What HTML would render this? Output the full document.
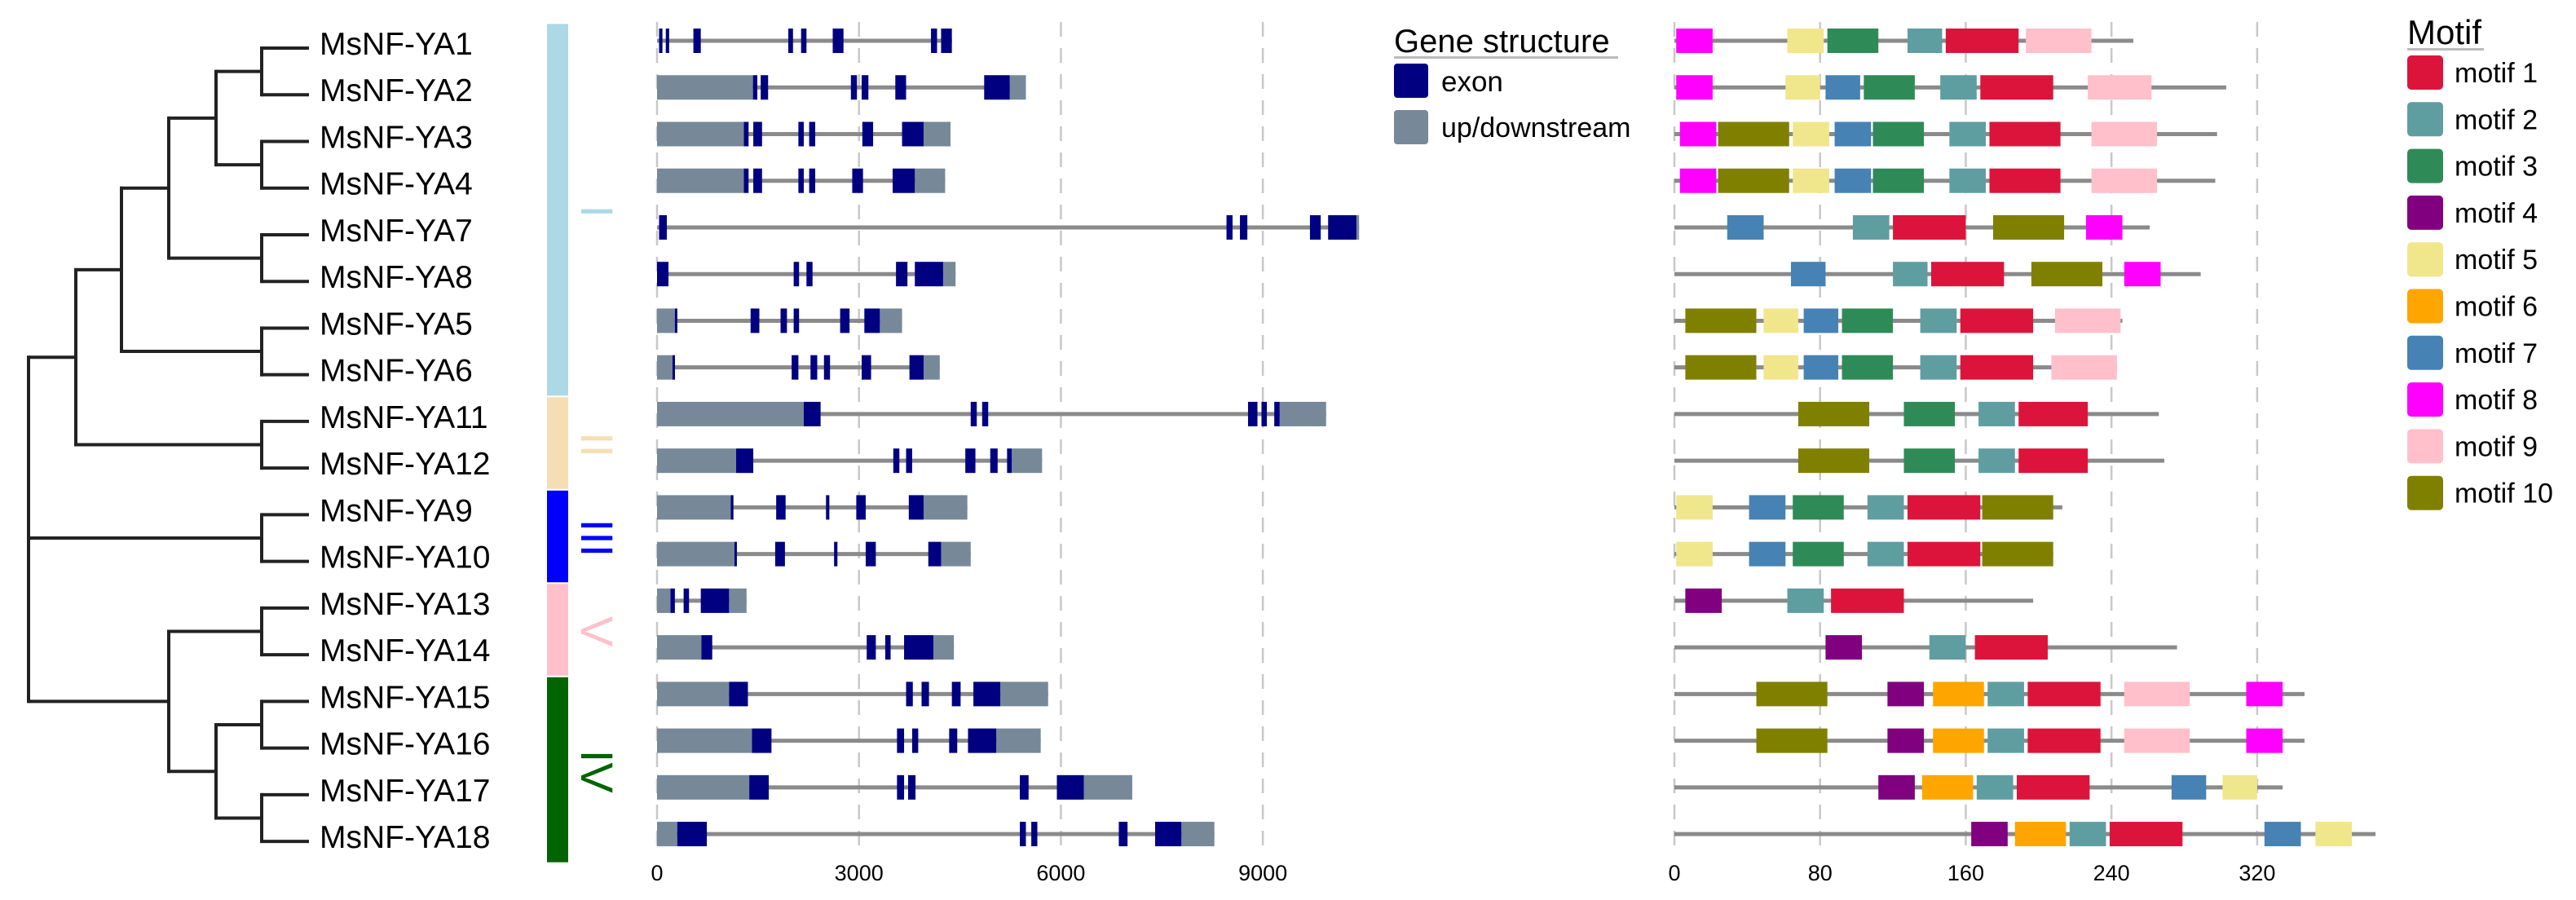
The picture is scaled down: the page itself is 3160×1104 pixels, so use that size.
<!DOCTYPE html>
<html><head><meta charset="utf-8">
<style>
html,body{margin:0;padding:0;background:#fff;}
svg{display:block;font-family:"Liberation Sans",sans-serif;}
</style></head>
<body>
<svg id="chart" width="3160" height="1104" viewBox="0 0 3160 1104" xmlns="http://www.w3.org/2000/svg">
<g id="grid"></g>
<g id="tree"></g>
<g id="labels"></g>
<g id="groups"></g>
<g id="genes"></g>
<g id="motifs"></g>
<g id="axes"></g>
<g>
  <text x="1710" y="64" font-size="40" fill="#000">Gene structure</text>
  <rect x="1710" y="69" width="275" height="3" fill="#bbb"/>
  <rect x="1710" y="78" width="42" height="42" rx="4" fill="#000080"/>
  <text x="1768" y="112" font-size="35">exon</text>
  <rect x="1710" y="135" width="42" height="42" rx="4" fill="#778899"/>
  <text x="1768" y="168" font-size="34">up/downstream</text>
</g>
<g id="motifLegend">
  <text x="2953" y="54" font-size="42">Motif</text>
  <rect x="2953" y="59" width="94" height="3" fill="#bbb"/>
</g>
</svg>
<script>
const NS="http://www.w3.org/2000/svg";
const geneNames=["MsNF-YA1","MsNF-YA2","MsNF-YA3","MsNF-YA4","MsNF-YA7","MsNF-YA8","MsNF-YA5","MsNF-YA6","MsNF-YA11","MsNF-YA12","MsNF-YA9","MsNF-YA10","MsNF-YA13","MsNF-YA14","MsNF-YA15","MsNF-YA16","MsNF-YA17","MsNF-YA18"];
// gene structure (bp): total length, UTR segments, exon segments
const geneLength=[4382,5480,4360,4280,10430,4435,3640,4200,9940,5720,4610,4660,1330,4410,5810,5700,7060,8280];
const geneUTR=[[],[[0,1425],[5240,5480]],[[0,1290],[3960,4360]],[[0,1290],[3830,4280]],[[10390,10430]],[[4250,4435]],[[0,265],[3310,3640]],[[0,230],[3960,4200]],[[0,2180],[9250,9940]],[[0,1175],[5270,5720]],[[0,1095],[3960,4610]],[[0,1150],[4220,4660]],[[0,200],[1070,1330]],[[0,660],[4105,4410]],[[0,1070],[5100,5810]],[[0,1410],[5040,5700]],[[0,1370],[6340,7060]],[[0,300],[7790,8280]]];
const geneExons=[
[[30,80],[130,180],[540,650],[1950,2020],[2140,2220],[2610,2770],[4070,4160],[4220,4380]],
[[1425,1490],[1540,1650],[2880,2970],[3040,3140],[3540,3700],[4860,5240]],
[[1290,1360],[1430,1560],[2100,2180],[2260,2350],[3050,3210],[3640,3960]],
[[1290,1360],[1430,1560],[2100,2180],[2260,2350],[2900,3060],[3500,3830]],
[[30,145],[8460,8550],[8660,8770],[9700,9860],[9970,10390]],
[[0,170],[2030,2110],[2220,2310],[3550,3720],[3830,4250]],
[[265,300],[1390,1520],[1835,1930],[2030,2110],[2720,2860],[3080,3310]],
[[230,265],[2000,2100],[2280,2380],[2480,2570],[3040,3180],[3750,3960]],
[[2180,2430],[4660,4750],[4830,4920],[8780,8920],[8980,9060],[9170,9250]],
[[1175,1430],[3510,3600],[3700,3790],[4580,4730],[4950,5060],[5200,5270]],
[[1095,1135],[1770,1910],[2510,2560],[2960,3100],[3740,3960]],
[[1150,1175],[1755,1900],[2630,2680],[3100,3250],[4030,4220]],
[[200,265],[395,475],[650,1070]],
[[660,820],[3115,3250],[3390,3470],[3670,4105]],
[[1070,1350],[3700,3800],[3930,4040],[4380,4510],[4700,5100]],
[[1410,1700],[3565,3670],[3790,3880],[4340,4460],[4620,5040]],
[[1370,1660],[3565,3670],[3730,3840],[5390,5520],[5940,6340]],
[[300,740],[5390,5480],[5560,5650],[6860,6990],[7400,7790]]];
const geneTicks=[0,3000,6000,9000];
// motifs (aa): protein length and [motif, start, end]
const protLength=[252,303,298,297,261,289,246,243,266,269,213,208,197,276,346,346,334,385];
const protMotifs=[
[[8,1,21],[5,62,82],[3,84,112],[2,128,147],[1,149,189],[9,193,229]],
[[8,1,21],[5,61,80],[7,83,102],[3,104,132],[2,146,166],[1,168,208],[9,227,262]],
[[8,3,23],[10,24,63],[5,65,85],[7,88,108],[3,109,137],[2,151,171],[1,173,212],[9,229,265]],
[[8,3,23],[10,24,63],[5,65,85],[7,88,108],[3,109,137],[2,151,171],[1,173,212],[9,229,265]],
[[7,29,49],[2,98,118],[1,120,160],[10,175,214],[8,226,246]],
[[7,64,83],[2,120,139],[1,141,181],[10,196,235],[8,247,267]],
[[10,6,45],[5,49,68],[7,71,90],[3,92,120],[2,135,155],[1,157,197],[9,209,245]],
[[10,6,45],[5,49,68],[7,71,90],[3,92,120],[2,135,155],[1,157,197],[9,207,243]],
[[10,68,107],[3,126,154],[2,167,187],[1,189,227]],
[[10,68,107],[3,126,154],[2,167,187],[1,189,227]],
[[5,1,21],[7,41,61],[3,65,93],[2,106,126],[1,128,168],[10,169,208]],
[[5,1,21],[7,41,61],[3,65,93],[2,106,126],[1,128,168],[10,169,208]],
[[4,6,26],[2,62,82],[1,86,126]],
[[4,83,103],[2,140,160],[1,165,205]],
[[10,45,84],[4,117,137],[6,142,170],[2,172,192],[1,194,234],[9,247,283],[8,314,334]],
[[10,45,84],[4,117,137],[6,142,170],[2,172,192],[1,194,234],[9,247,283],[8,314,334]],
[[4,112,132],[6,136,164],[2,166,186],[1,188,228],[7,273,292],[5,301,320]],
[[4,163,183],[6,187,215],[2,217,237],[1,239,279],[7,324,344],[5,352,372]]];
const motifTicks=[0,80,160,240,320];
const motifLabels=["motif 1","motif 2","motif 3","motif 4","motif 5","motif 6","motif 7","motif 8","motif 9","motif 10"];
const motifColors=["#DC143C","#5F9EA0","#2E8B57","#800080","#F0E68C","#FFA500","#4682B4","#FF00FF","#FFC0CB","#808000"];
const groupNames=["I","II","III","V","IV"];
const groupRows=[[0,7],[8,9],[10,11],[12,13],[14,17]];
const groupColors=["#ADD8E6","#F5DEB3","#0000FF","#FFC0CB","#006400"];
// tree: tips are indices; internal nodes [depth, children]
const treeData=[35,[[93,[[149,[[207,[[265,[[321,[0,1]],[321,[2,3]]]],[321,[4,5]]]],[321,[6,7]]]],[321,[8,9]]]],[321,[10,11]],[207,[[321,[12,13]],[265,[[321,[14,15]],[321,[16,17]]]]]]]];

const yRow=i=>50+i*57.24;
const tRow=i=>yRow(i)+9;
const gx=bp=>806+bp*0.08257;
const mx=aa=>2054+aa*2.234;
function el(tag,attrs,parent){const e=document.createElementNS(NS,tag);for(const k in attrs)e.setAttribute(k,attrs[k]);parent.appendChild(e);return e;}
const G=id=>document.getElementById(id);

// grid
geneTicks.forEach(t=>{const l=el('line',{x1:gx(t),x2:gx(t),y1:27,y2:1045,stroke:'#c8c8c8','stroke-width':2.5,'stroke-dasharray':'18,14'},G('grid'));

});
motifTicks.forEach(t=>{const l=el('line',{x1:mx(t),x2:mx(t),y1:27,y2:1045,stroke:'#c8c8c8','stroke-width':2.5,'stroke-dasharray':'18,14'},G('grid'));

});

// tree
function drawNode(n){
  if(typeof n==='number')return {y:tRow(n)};
  const kids=n[1].map(drawNode);
  const ys=kids.map(k=>k.y);
  const y=(Math.min(...ys)+Math.max(...ys))/2;
  const v=el('line',{x1:n[0],x2:n[0],y1:Math.min(...ys)-2,y2:Math.max(...ys)+2,stroke:'#222','stroke-width':4},G('tree'));
  
  
  kids.forEach(k=>{const h=el('line',{x1:n[0],x2:k.xs!==undefined?k.xs:379,y1:k.y,y2:k.y,stroke:'#222','stroke-width':4},G('tree'));
    
    });
  return {y:y,xs:n[0]};
}
drawNode(treeData);

// labels
geneNames.forEach((n,i)=>{const t=el('text',{x:392,y:yRow(i)+17,'font-size':39,fill:'#000'},G('labels'));t.textContent=n;

});

// group bars
groupRows.forEach((r,i)=>{
  const y1=yRow(r[0]-0.5)+8,y2=yRow(r[1]+0.5)+6;
  const b=el('rect',{x:671,y:y1,width:26,height:y2-y1,fill:groupColors[i]},G('groups'));
  
  
  const yc=yRow((r[0]+r[1])/2)+9;
  const t=el('text',{transform:`translate(713,${yc}) rotate(90)`,'text-anchor':'middle','font-size':56,fill:groupColors[i]},G('groups'));
  t.textContent=groupNames[i];
  
  
});

// genes
geneLength.forEach((len,i)=>{
  const y=yRow(i);
  const g=el('g',{},G('genes'));
  
  
  const l=el('line',{x1:gx(0),x2:gx(len),y1:y,y2:y,stroke:'#8a8a8a','stroke-width':5},g);
  
  
  geneUTR[i].forEach(s=>{const r=el('rect',{x:gx(s[0]),y:y-15,width:gx(s[1])-gx(s[0]),height:30,fill:'#778899'},g);
    
    });
  geneExons[i].forEach(s=>{const r=el('rect',{x:gx(s[0]),y:y-15,width:Math.max(3,gx(s[1])-gx(s[0])),height:30,fill:'#000080'},g);
    
    });
});

// motifs
protLength.forEach((len,i)=>{
  const y=yRow(i);
  const g=el('g',{},G('motifs'));
  
  
  const l=el('line',{x1:mx(0),x2:mx(len),y1:y,y2:y,stroke:'#8a8a8a','stroke-width':5},g);
  
  
  protMotifs[i].forEach(m=>{const r=el('rect',{x:mx(m[1]),y:y-15,width:mx(m[2])-mx(m[1]),height:30,fill:motifColors[m[0]-1]},g);
    
    });
});

// axes ticks
geneTicks.forEach(t=>{const tx=el('text',{x:gx(t),y:1080,'text-anchor':'middle','font-size':27},G('axes'));tx.textContent=t;

});
motifTicks.forEach(t=>{const tx=el('text',{x:mx(t),y:1080,'text-anchor':'middle','font-size':27},G('axes'));tx.textContent=t;

});

// motif legend
motifLabels.forEach((m,i)=>{
  const y=68+i*57.3;
  const r=el('rect',{x:2953,y:y,width:44,height:42,rx:5,fill:motifColors[i]},G('motifLegend'));
  
  
  const t=el('text',{x:3011,y:y+33,'font-size':34},G('motifLegend'));t.textContent=m;
  
  
});
</script>
</body></html>
